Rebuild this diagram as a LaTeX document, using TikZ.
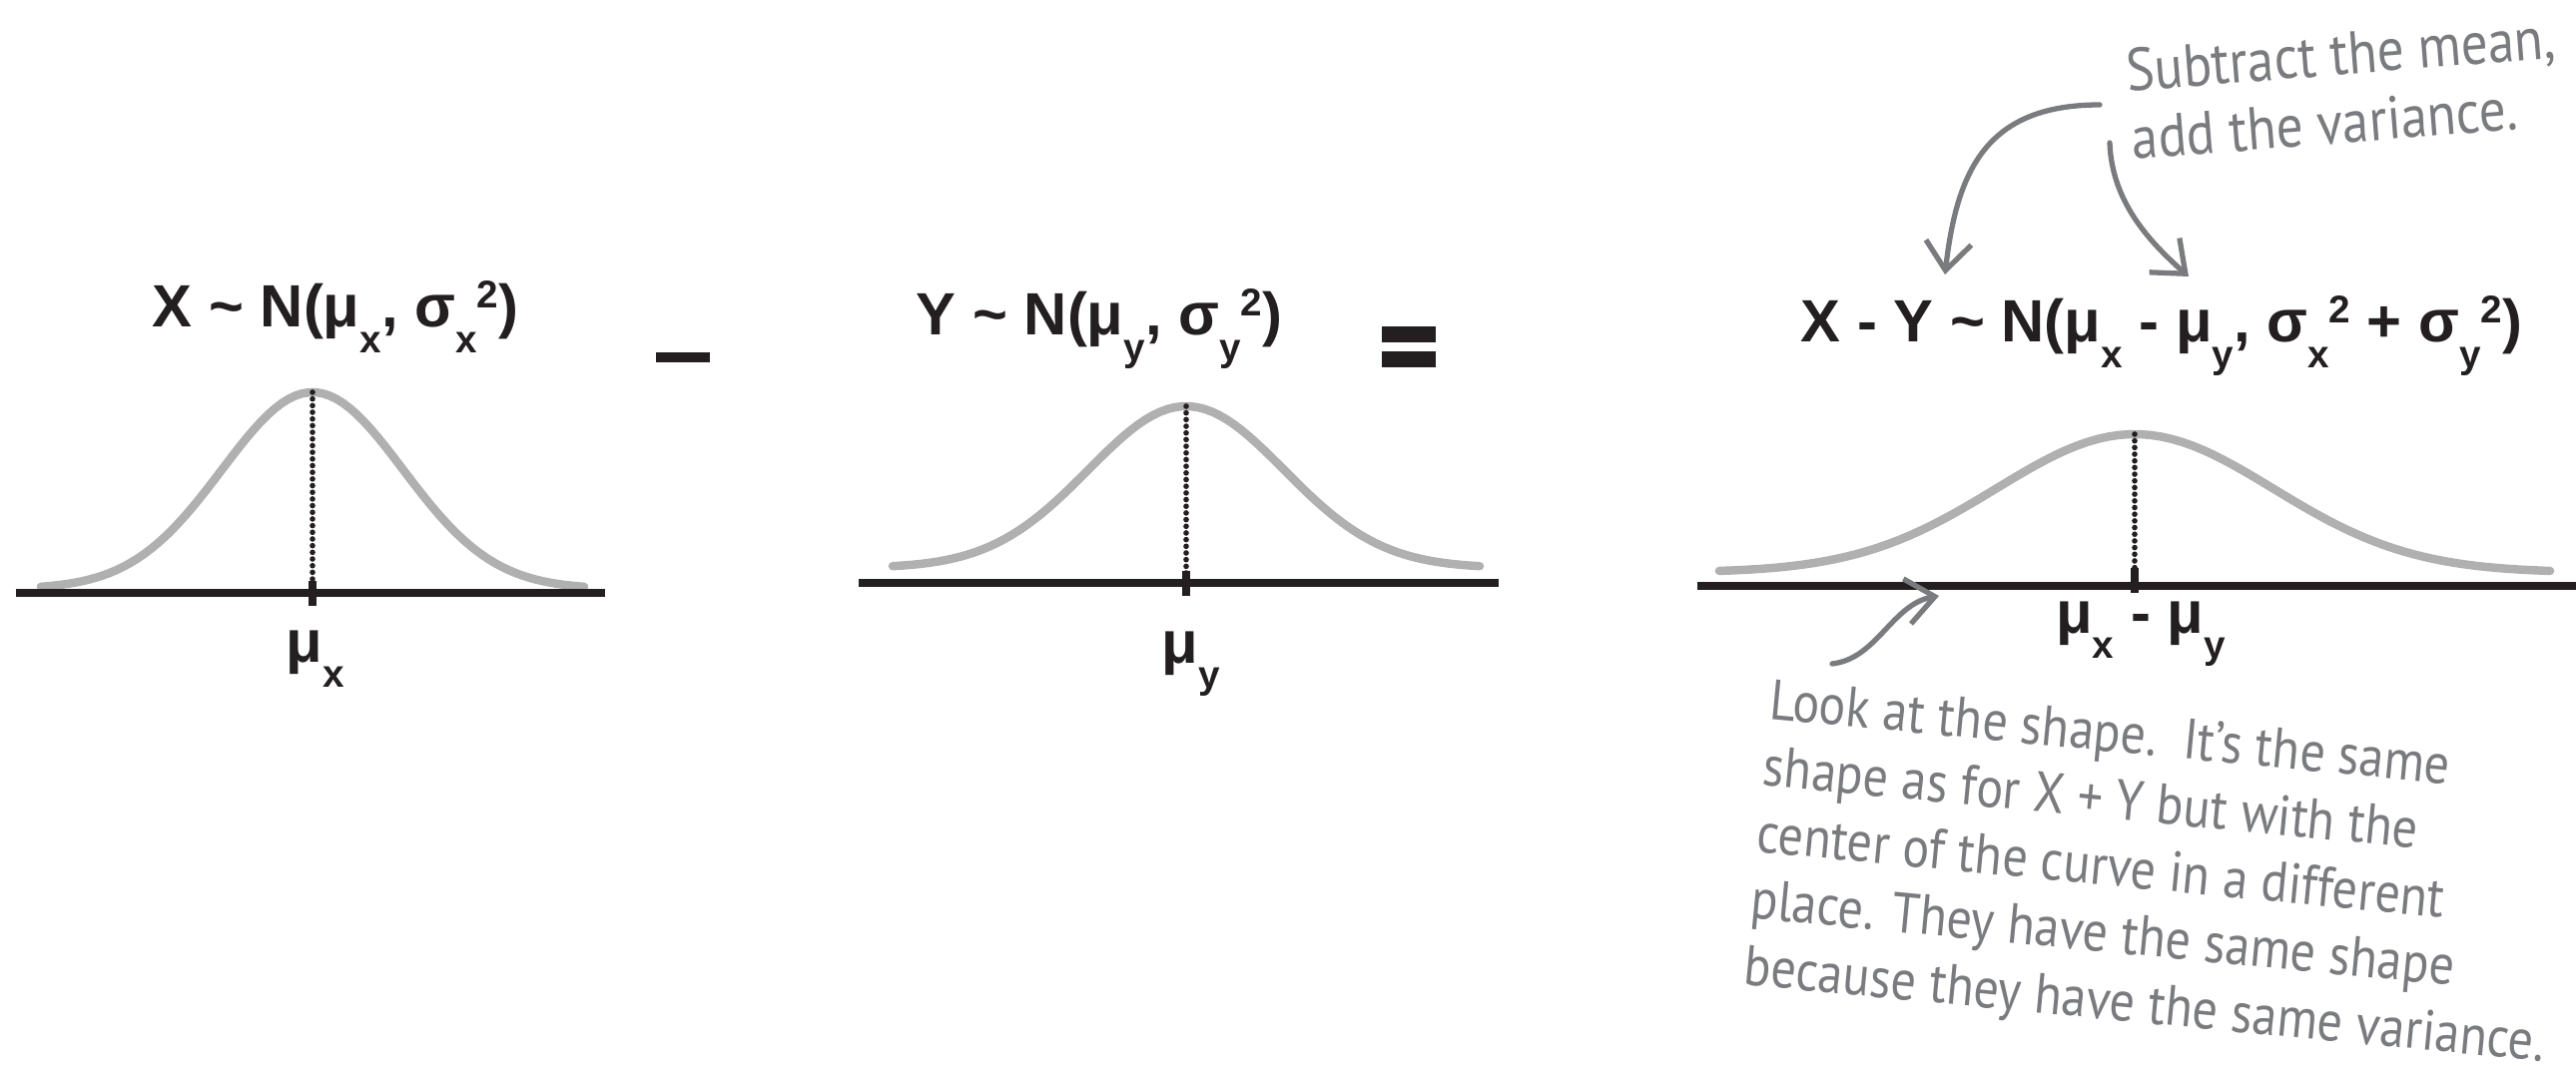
\documentclass[tikz,border=0pt]{standalone}
\usepackage{fontspec}
\setmainfont{Liberation Sans}
\newfontfamily\handfont[FakeStretch=0.88]{PT Sans}
\usepackage{xcolor}
\definecolor{ink}{HTML}{231F20}
\definecolor{curvegrey}{HTML}{B0B0B0}
\definecolor{pencil}{HTML}{7A7B7E}
\usetikzlibrary{arrows.meta}
\newcommand\subtxt[1]{\raisebox{-0.42em}{\fontsize{11}{11}\selectfont#1}}
\newcommand\suptxt[1]{\raisebox{0.32em}{\fontsize{11}{11}\selectfont#1}}

\begin{document}
\begin{tikzpicture}[x=0.01cm,y=-0.01cm,
  formula/.style={font=\bfseries\fontsize{17}{20}\selectfont,text=ink,inner sep=0pt,anchor=base},
  meanlabel/.style={font=\bfseries\fontsize{17}{20}\selectfont,text=ink,inner sep=0pt},
  note/.style={font=\handfont\fontsize{16.2}{19}\selectfont,text=pencil,align=left,inner sep=0pt,anchor=base west},
  axisline/.style={draw=ink,line width=2pt},
  meantick/.style={draw=ink,line width=2.2pt},
  meanline/.style={draw=ink,line width=1.6pt,dash pattern=on 0pt off 1.9pt,line cap=round},
  bell/.style={draw=curvegrey,line width=2.4pt,line cap=round},
  opbar/.style={fill=ink,inner sep=0pt,minimum width=0.53cm},
  arr/.style={-{Straight Barb[length=8pt,width=13pt]},draw=pencil,line width=1.5pt,line cap=round}]
\useasboundingbox (0,0) rectangle (2580,1076);

\node[formula] (distx) at (336,328) {X \textasciitilde{} N(μ\subtxt{x}, σ\subtxt{x}\suptxt{2})};
\node[formula] (disty) at (1101,336) {Y \textasciitilde{} N(μ\subtxt{y}, σ\subtxt{y}\suptxt{2})};
\node[formula] (distd) at (2165,343) {X - Y \textasciitilde{} N(μ\subtxt{x} - μ\subtxt{y}, σ\subtxt{x}\suptxt{2} + σ\subtxt{y}\suptxt{2})};

\node[opbar,minimum height=0.1cm] (minus) at (684,358) {};
\node[opbar,minimum height=0.16cm] (eqtop) at (1411,335) {};
\node[opbar,minimum height=0.16cm] (eqbot) at (1411,360) {};

\draw[bell] plot[domain=-3:3,samples=80] ({313+90.7*\x},{590-197*exp(-0.5*(\x)*(\x))});
\draw[bell] plot[domain=-3:3,samples=80] ({1188+98*\x},{569-162*exp(-0.5*(\x)*(\x))});
\draw[bell] plot[domain=-3:3,samples=80] ({2138+138.7*\x},{573.5-138.5*exp(-0.5*(\x)*(\x))});

\draw[axisline] (16,594) -- (606,594);
\draw[axisline] (860,584) -- (1501,584);
\draw[axisline] (1700,587) -- (2580,587);

\coordinate (peakx) at (313,393); \coordinate (footx) at (313,594);
\coordinate (peaky) at (1188,407); \coordinate (footy) at (1188,584);
\coordinate (peakd) at (2138,435); \coordinate (footd) at (2138,587);
\draw[meanline] (peakx) -- (footx); \draw[meanline] (peaky) -- (footy); \draw[meanline] (peakd) -- (footd);
\draw[meantick] (313,582) -- (313,607); \draw[meantick] (1188,572) -- (1188,597); \draw[meantick] (2138,569) -- (2138,594);

\node[meanlabel] (mux) at (316,660) {μ\subtxt{x}};
\node[meanlabel] (muy) at (1193,665) {μ\subtxt{y}};
\node[meanlabel] (mud) at (2144,635) {μ\subtxt{x} - μ\subtxt{y}};

\node[note,rotate=4.5,font=\handfont\fontsize{17.2}{19.5}\selectfont] (varnote) at (2136,160) {Subtract the mean,\\add the variance.};
\node[note,rotate=-5.5] (shapenote) at (1745,986) {Look at the shape.\ \ It’s the same\\shape as for X + Y but with the\\center of the curve in a different\\place. They have the same shape\\because they have the same variance.};

\coordinate (meanfrom) at (2103,105); \coordinate (meanto) at (1948,275);
\coordinate (varfrom) at (2113,143); \coordinate (varto) at (2192,277);
\coordinate (shapefrom) at (1835,665); \coordinate (shapeto) at (1942,597);
\draw[arr] (meanfrom) .. controls (1990,105) and (1960,170) .. (meanto);
\draw[arr] (varfrom) .. controls (2115,200) and (2150,240) .. (varto);
\draw[arr] (shapefrom) .. controls (1880,660) and (1895,605) .. (shapeto);
\end{tikzpicture}
\end{document}
